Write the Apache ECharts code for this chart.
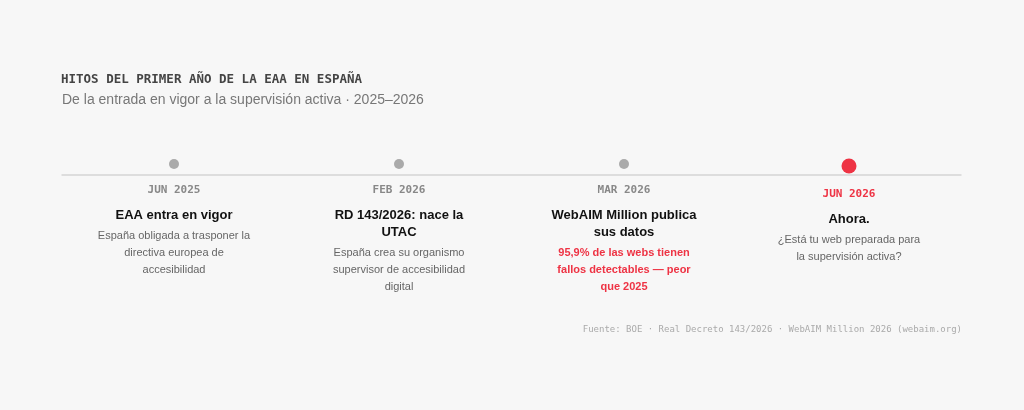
<!DOCTYPE html>
<html><head><meta charset="utf-8">
<script src="https://cdn.jsdelivr.net/npm/echarts@6/dist/echarts.min.js"></script>
<style>html,body{margin:0;background:#f7f7f7}#c{width:1024px;height:410px}</style>
</head><body><div id="c"></div>
<script>
const dates = ['JUN 2025','FEB 2026','MAR 2026','JUN 2026'];
const headlines = ['EAA entra en vigor','RD 143/2026: nace la\nUTAC','WebAIM Million publica\nsus datos','Ahora.'];
const bodies = ['España obligada a trasponer la\ndirectiva europea de\naccesibilidad','España crea su organismo\nsupervisor de accesibilidad\ndigital','95,9% de las webs tienen\nfallos detectables — peor\nque 2025','¿Está tu web preparada para\nla supervisión activa?'];
const highlight = [false,false,false,true];
const bodyRed = [false,false,true,false];
const positions = [0,1,2,3];

const chart = echarts.init(document.getElementById('c'));
const mono = '"DejaVu Sans Mono", monospace';
const sans = '"Liberation Sans", Arial, sans-serif';
chart.setOption({
  backgroundColor:'#f7f7f7',
  animation:false,
  grid:{left:61.5,right:62.5,top:70,bottom:130},
  xAxis:{type:'value',min:-0.5,max:3.5,show:false},
  yAxis:{type:'value',min:0,max:10,show:false},
  series:[
    {type:'line',data:[[-0.5,5],[3.5,5]],symbol:'none',lineStyle:{color:'#d4d4d4',width:1.5},silent:true},
    {type:'scatter',data:positions.map((p,i)=>({value:[p,5],symbolSize:highlight[i]?15:10,
      itemStyle:{color:highlight[i]?'#ee3344':'#aaaaaa',opacity:1},symbolOffset:[0,highlight[i]?-9:-11]}))}
  ]
});
const g = [
  {type:'text',left:61,top:73,style:{text:'HITOS DEL PRIMER AÑO DE LA EAA EN ESPAÑA',font:'bold 12.5px '+mono,fill:'#444'}},
  {type:'text',left:62,top:93,style:{text:'De la entrada en vigor a la supervisión activa · 2025–2026',font:'14px '+sans,fill:'#777'}},
  {type:'text',right:62,top:325,style:{text:'Fuente: BOE · Real Decreto 143/2026 · WebAIM Million 2026 (webaim.org)',font:'9px '+mono,fill:'#aaa',align:'right'}}
];
positions.forEach((p,i)=>{
  const [x,y] = chart.convertToPixel({gridIndex:0},[p,5]);
  const off = highlight[i]?4:0;
  g.push({type:'text',x:x,y:y+10+off,style:{text:dates[i],font:'bold 11px '+mono,fill:highlight[i]?'#ee3344':'#888',align:'center',verticalAlign:'top'}});
  const nh = headlines[i].split('\n').length;
  g.push({type:'text',x:x,y:y+32+off,style:{text:headlines[i],font:'bold 13px '+sans,fill:'#111',align:'center',verticalAlign:'top',lineHeight:17}});
  g.push({type:'text',x:x,y:y+32+off+nh*17+3,style:{text:bodies[i],font:(bodyRed[i]?'bold ':'')+'11px '+sans,fill:bodyRed[i]?'#ee3344':'#666',align:'center',verticalAlign:'top',lineHeight:17}});
});
chart.setOption({graphic:g});
</script></body></html>
